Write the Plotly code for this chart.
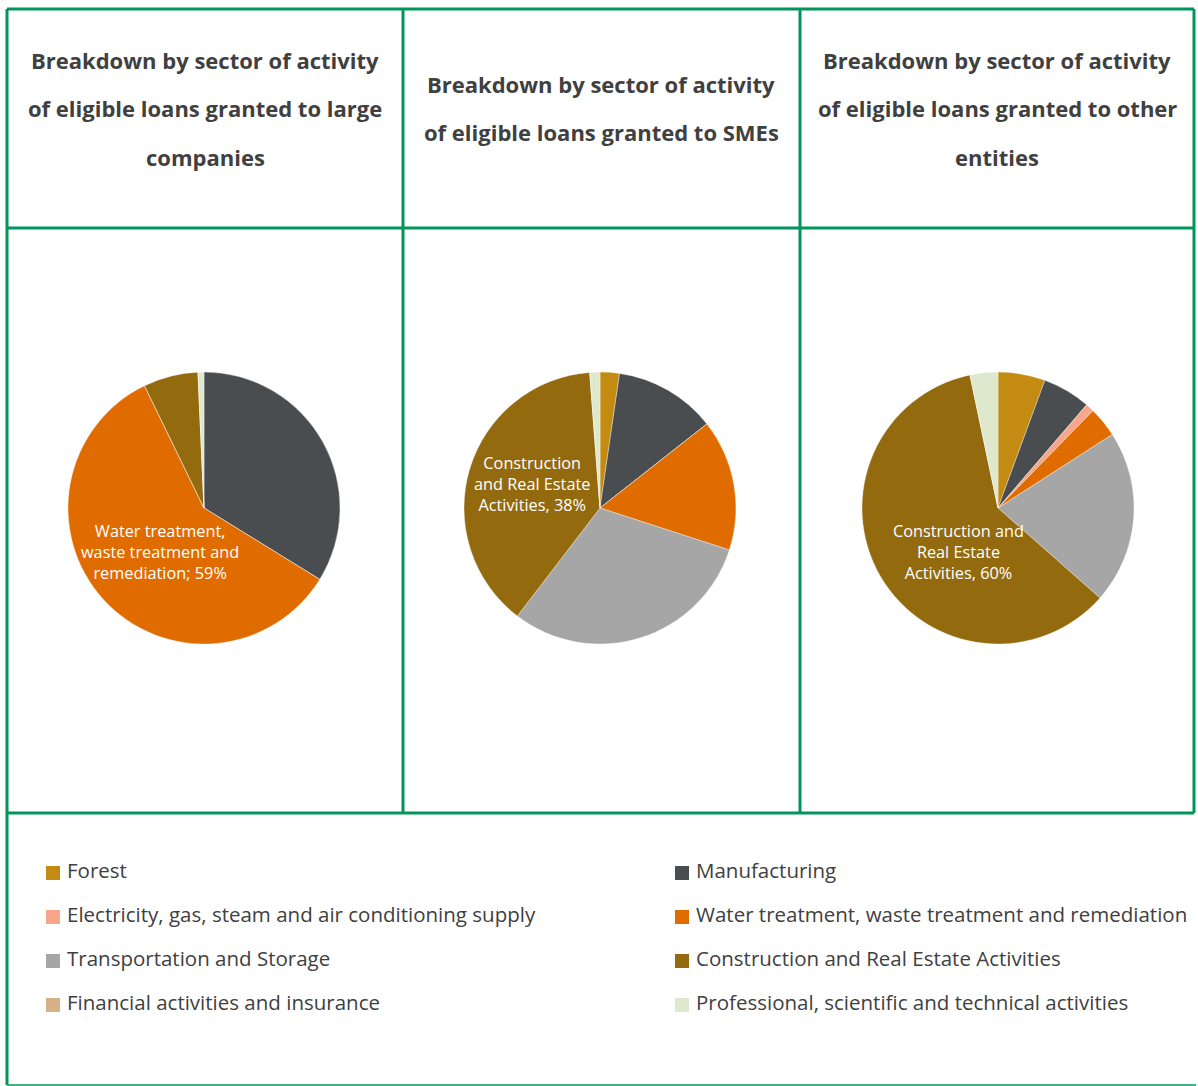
import plotly.graph_objects as go

W, H = 1198, 1086

categories = [
    "Forest",
    "Manufacturing",
    "Electricity, gas, steam and air conditioning supply",
    "Water treatment, waste treatment and remediation",
    "Transportation and Storage",
    "Construction and Real Estate Activities",
    "Financial activities and insurance",
    "Professional, scientific and technical activities",
]
colors = ["#C48B12", "#4A4D50", "#F7A68C", "#E06C00", "#A6A6A6", "#936A0E", "#D6B187", "#DEE8CC"]

large_companies = [0.0, 33.8, 0.0, 59.0, 0.0, 6.5, 0.0, 0.7]
smes = [2.3, 12.1, 0.0, 15.6, 30.4, 38.4, 0.0, 1.2]
other_entities = [5.6, 5.7, 1.0, 3.6, 20.6, 60.2, 0.0, 3.3]

data_labels = [
    "Water treatment,<br>waste treatment and<br>remediation; 59%",
    "Construction<br>and Real Estate<br>Activities, 38%",
    "Construction and<br>Real Estate<br>Activities, 60%",
]

titles = [
    ["Breakdown by sector of activity", "of eligible loans granted to large", "companies"],
    ["Breakdown by sector of activity", "of eligible loans granted to SMEs"],
    ["Breakdown by sector of activity", "of eligible loans granted to other", "entities"],
]

GREEN = "#00965A"
TXT = "#404040"
FONT = "Open Sans"


def px(x):
    return x / W


def py(y):
    return 1 - y / H


fig = go.Figure()

centers = [(204, 508), (600, 508), (998, 508)]
label_offsets = [(-44, 44), (-68, -24), (-40, 44)]
R = 136
for (cx, cy), vals in zip(centers, [large_companies, smes, other_entities]):
    fig.add_trace(go.Pie(
        labels=categories, values=vals,
        textinfo="none",
        marker=dict(colors=colors, line=dict(color="rgba(255,255,255,0.6)", width=0.6)),
        sort=False, direction="clockwise", rotation=0,
        domain=dict(x=[px(cx - R), px(cx + R)], y=[py(cy + R), py(cy - R)]),
        hoverinfo="skip", showlegend=False,
    ))

shapes = []
lw = 3
for x0, y0, x1, y1 in [
    (7, 9, 1194, 9),
    (7, 228, 1194, 228),
    (7, 813, 1194, 813),
    (7, 9, 7, 1085),
    (403, 9, 403, 813),
    (800, 9, 800, 813),
    (1194, 9, 1194, 813),
]:
    shapes.append(dict(type="line", xref="paper", yref="paper",
                       x0=px(x0), y0=py(y0), x1=px(x1), y1=py(y1),
                       line=dict(color=GREEN, width=lw)))
shapes.append(dict(type="line", xref="paper", yref="paper",
                   x0=px(7), y0=py(1085), x1=px(1196), y1=py(1085),
                   line=dict(color=GREEN, width=1.5)))

annotations = []
col_centers = [205, 601, 997]
title_rows = {3: [60, 108, 157], 2: [84, 132]}
for cxp, lines in zip(col_centers, titles):
    for yy, line in zip(title_rows[len(lines)], lines):
        annotations.append(dict(text="<b>" + line + "</b>", xref="paper", yref="paper",
                                x=px(cxp), y=py(yy), xanchor="center", yanchor="middle",
                                showarrow=False, font=dict(family=FONT, size=22, color=TXT)))

# data labels on the largest slice of each pie
for (cx, cy), (dx, dy), lab in zip(centers, label_offsets, data_labels):
    annotations.append(dict(text=lab, xref="paper", yref="paper",
                            x=px(cx + dx), y=py(cy + dy), xanchor="center", yanchor="middle",
                            align="center", showarrow=False,
                            font=dict(family=FONT, size=16.3, color="white")))

# legend (two columns, row-wise order)
leg_x = [46, 675]
leg_y = [870, 914, 958, 1002]
for i, (cat, col) in enumerate(zip(categories, colors)):
    r, c = divmod(i, 2)
    x0 = leg_x[c]
    yc = leg_y[r] + 3
    shapes.append(dict(type="rect", xref="paper", yref="paper",
                       x0=px(x0), x1=px(x0 + 14), y0=py(yc + 7), y1=py(yc - 7),
                       fillcolor=col, line=dict(width=0)))
    annotations.append(dict(text=cat, xref="paper", yref="paper",
                            x=px(x0 + 19), y=py(leg_y[r]), xanchor="left", yanchor="middle",
                            showarrow=False, font=dict(family=FONT, size=20.5, color=TXT)))

fig.update_layout(
    width=W, height=H, margin=dict(l=0, r=0, t=0, b=0),
    paper_bgcolor="white", plot_bgcolor="white",
    shapes=shapes, annotations=annotations, showlegend=False,
)

fig.write_html("out.html")
